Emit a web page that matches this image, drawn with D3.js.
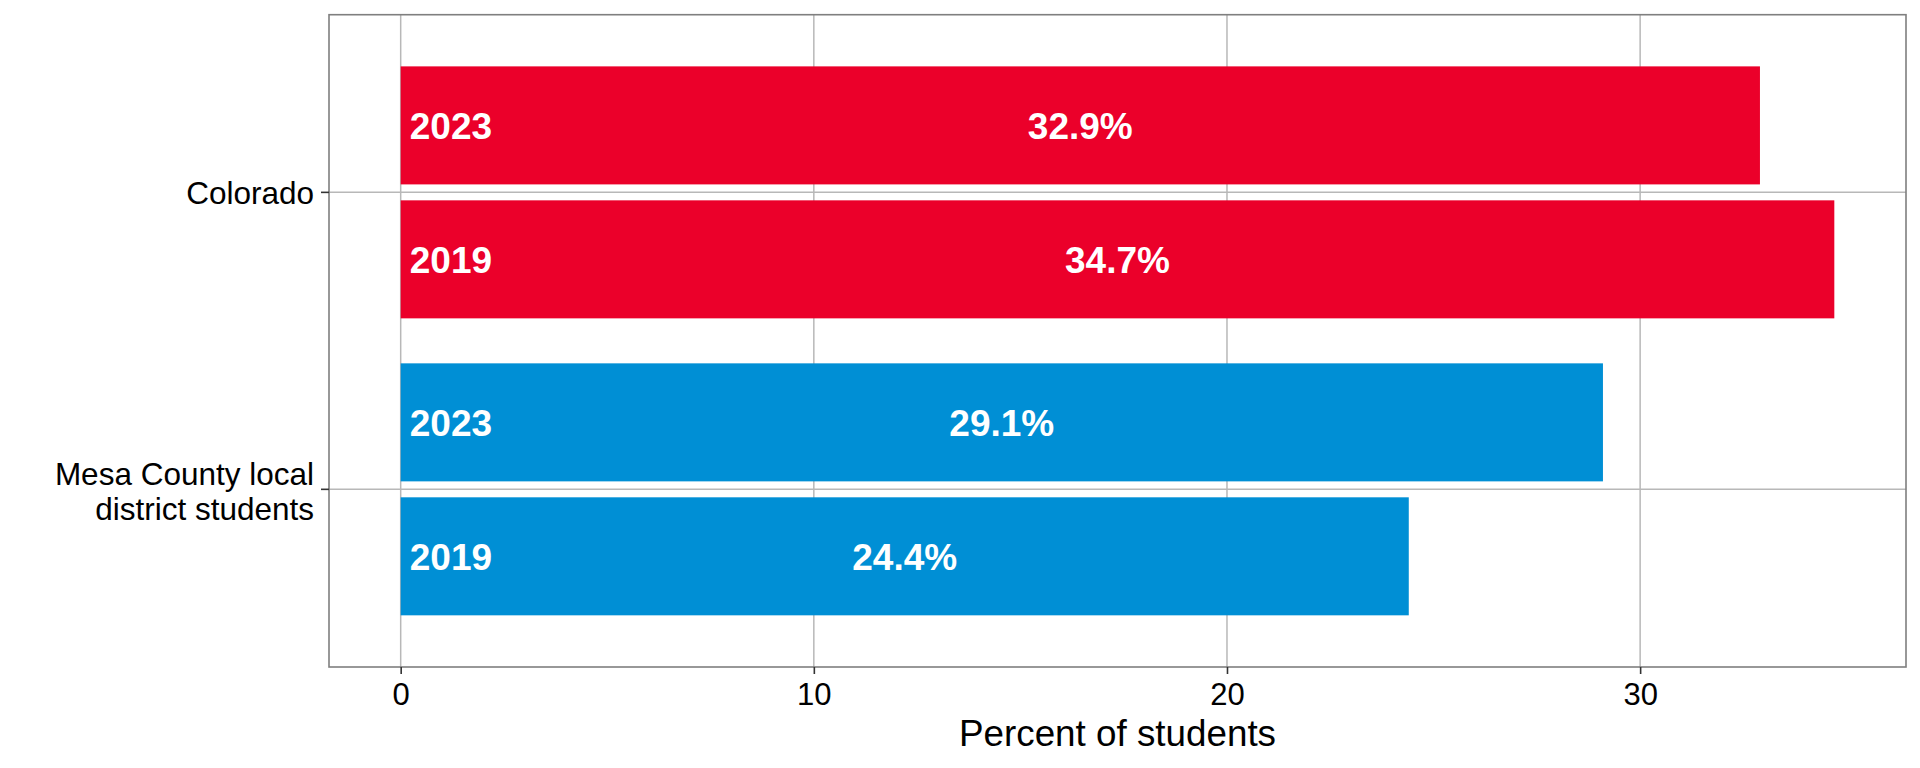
<!DOCTYPE html>
<html>
<head>
<meta charset="utf-8">
<script src="https://d3js.org/d3.v7.min.js"></script>
<style>
    body { margin: 0; background: #fff; }
    svg { display: block; font-family: 'Liberation Sans', Arial, sans-serif; }
</style>
</head>
<body>
<svg id="chart" width="1920" height="768"></svg>
<script>
// chart data
const categories = ['Colorado', 'Mesa County local district students'];
const categoryLines = [['Colorado'], ['Mesa County local', 'district students']];
const years = ['2023', '2019'];
const values2023 = [32.9, 29.1];
const values2019 = [34.7, 24.4];
const xTicks = [0, 10, 20, 30];
const colors = ['#EB002A', '#008FD5'];

const rows = [];
categories.forEach((c, i) => {
    rows.push({ cat: c, year: '2023', value: values2023[i], color: colors[i] });
    rows.push({ cat: c, year: '2019', value: values2019[i], color: colors[i] });
});

const panel = { left: 329, right: 1906, top: 14.7, bottom: 667 };
const svg = d3.select('#chart');

// x: 0..max with 5% expansion like ggplot
const maxVal = d3.max(rows, d => d.value);
const pad = maxVal * 0.05;
const x = d3.scaleLinear()
    .domain([-pad, maxVal + pad])
    .range([panel.left, panel.right]);

const y = d3.scaleBand()
    .domain(categories)
    .range([panel.top, panel.bottom])
    .paddingInner(0.1515)
    .paddingOuter(0.174);

const yInner = d3.scaleBand()
    .domain(years)
    .range([0, y.bandwidth()])
    .paddingInner(0.119);

const yCenter = c => y(c) + y.bandwidth() / 2;

// panel background
svg.append('rect')
    .attr('x', panel.left).attr('y', panel.top)
    .attr('width', panel.right - panel.left)
    .attr('height', panel.bottom - panel.top)
    .attr('fill', '#fff');

// grid lines
svg.append('g').selectAll('line')
    .data(xTicks)
    .join('line')
    .attr('x1', d => x(d)).attr('x2', d => x(d))
    .attr('y1', panel.top).attr('y2', panel.bottom)
    .attr('stroke', '#b8b8b8')
    .attr('stroke-width', 1.5);

svg.append('g').selectAll('line')
    .data(categories)
    .join('line')
    .attr('x1', panel.left).attr('x2', panel.right)
    .attr('y1', d => yCenter(d)).attr('y2', d => yCenter(d))
    .attr('stroke', '#b8b8b8')
    .attr('stroke-width', 1.5);

// bars
svg.append('g').selectAll('rect')
    .data(rows)
    .join('rect')
    .attr('x', x(0))
    .attr('y', d => y(d.cat) + yInner(d.year))
    .attr('width', d => x(d.value) - x(0))
    .attr('height', yInner.bandwidth())
    .attr('fill', d => d.color);

// year labels at left of bars
svg.append('g').selectAll('text')
    .data(rows)
    .join('text')
    .attr('x', x(0.22))
    .attr('y', d => y(d.cat) + yInner(d.year) + yInner.bandwidth() / 2)
    .attr('dy', '0.36em')
    .attr('fill', '#fff')
    .attr('font-weight', 'bold')
    .attr('font-size', 37)
    .text(d => d.year);

// value labels in the middle of bars
svg.append('g').selectAll('text')
    .data(rows)
    .join('text')
    .attr('x', d => x(d.value / 2))
    .attr('y', d => y(d.cat) + yInner(d.year) + yInner.bandwidth() / 2)
    .attr('dy', '0.36em')
    .attr('text-anchor', 'middle')
    .attr('fill', '#fff')
    .attr('font-weight', 'bold')
    .attr('font-size', 37)
    .text(d => d.value.toFixed(1) + '%');

// panel border
svg.append('rect')
    .attr('x', panel.left).attr('y', panel.top)
    .attr('width', panel.right - panel.left)
    .attr('height', panel.bottom - panel.top)
    .attr('fill', 'none')
    .attr('stroke', '#7f7f7f')
    .attr('stroke-width', 1.6);

// x axis
const xAxis = svg.append('g')
    .attr('transform', `translate(0,${panel.bottom})`)
    .call(d3.axisBottom(x).tickValues(xTicks).tickSize(7).tickPadding(9).tickFormat(d3.format('d')));
xAxis.select('.domain').remove();
xAxis.selectAll('.tick line').attr('stroke', '#333').attr('stroke-width', 1.6);
xAxis.selectAll('.tick text')
    .attr('fill', '#000')
    .attr('font-size', 31)
    .attr('font-family', "'Liberation Sans', Arial, sans-serif");

// y axis ticks
svg.append('g').selectAll('line')
    .data(categories)
    .join('line')
    .attr('x1', panel.left - 8).attr('x2', panel.left)
    .attr('y1', d => yCenter(d)).attr('y2', d => yCenter(d))
    .attr('stroke', '#333')
    .attr('stroke-width', 1.6);

// y axis labels (multi-line, right aligned)
const yLab = svg.append('g').selectAll('text')
    .data(categories)
    .join('text')
    .attr('text-anchor', 'end')
    .attr('font-size', 31.5)
    .attr('fill', '#000');
yLab.each(function(d, i) {
    const lines = categoryLines[i];
    const lh = 35;
    const c = yCenter(d) + (lines.length > 1 ? 1.5 : 0);
    lines.forEach((ln, j) => {
        d3.select(this).append('tspan')
            .attr('x', panel.left - 15)
            .attr('y', c - (lines.length - 1) * lh / 2 + j * lh)
            .attr('dy', '0.36em')
            .text(ln);
    });
});

// x axis title
svg.append('text')
    .attr('x', (panel.left + panel.right) / 2)
    .attr('y', 746)
    .attr('text-anchor', 'middle')
    .attr('font-size', 36.8)
    .attr('fill', '#000')
    .text('Percent of students');
</script>
</body>
</html>
